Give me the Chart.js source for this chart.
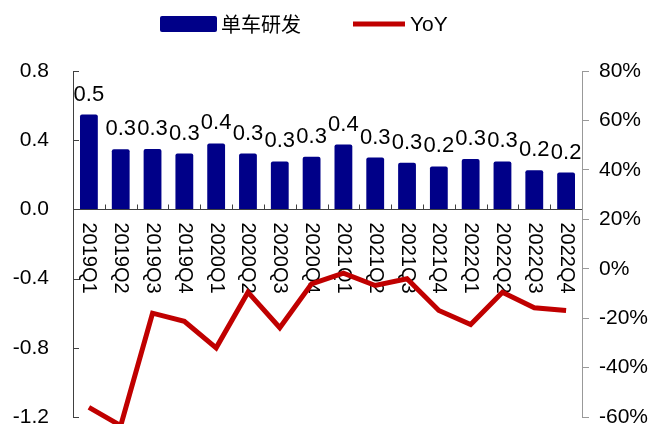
<!DOCTYPE html>
<html>
<head>
<meta charset="utf-8">
<script src="https://cdn.jsdelivr.net/npm/chart.js@4.4.0/dist/chart.umd.min.js"></script>
<style>
  html, body { margin: 0; padding: 0; background: #fff; }
</style>
</head>
<body>
<canvas id="myChart" width="651" height="424"></canvas>
<script>
// quarters on the x axis
const quarters = ['2019Q1', '2019Q2', '2019Q3', '2019Q4', '2020Q1', '2020Q2', '2020Q3', '2020Q4',
  '2021Q1', '2021Q2', '2021Q3', '2021Q4', '2022Q1', '2022Q2', '2022Q3', '2022Q4'];
// 单车研发 (left axis)
const rdValues = [0.548, 0.348, 0.349, 0.323, 0.381, 0.323, 0.277, 0.304,
  0.375, 0.300, 0.269, 0.248, 0.292, 0.277, 0.227, 0.213];
// YoY in % (right axis)
const yoyValues = [-56.1, -63.5, -18.0, -21.3, -32.0, -9.5, -23.9, -6.1,
  -1.8, -6.8, -4.1, -16.9, -22.6, -9.5, -15.8, -16.9];
const leftRange = [-1.2, 0.8];
const rightRange = [-60, 80];

const barColor = '#000088';
const lineColor = '#C00000';
const fontFamily = '"Liberation Sans", Arial, sans-serif';

// fixed axis widths, and no extra room for the end labels
function fixAxis(width) {
  return s => {
    s.width = width;
    s.paddingTop = 0;
    s.paddingBottom = 0;
  };
}

// x axis at zero, inward ticks, rotated labels, bar values and legend
const painter = {
  id: 'painter',
  beforeDatasetsDraw(chart) {
    const ctx = chart.ctx;
    const area = chart.chartArea;
    const x = chart.scales.x;
    const yl = chart.scales.y;
    const y0 = Math.round(yl.getPixelForValue(0)) + 0.5;
    ctx.save();
    ctx.strokeStyle = '#404040';
    ctx.lineWidth = 1;
    ctx.beginPath();
    ctx.moveTo(area.left, y0);
    ctx.lineTo(area.right, y0);
    for (let i = 1; i < quarters.length; i++) {
      const xb = Math.round((x.getPixelForValue(i - 1) + x.getPixelForValue(i)) / 2) + 0.5;
      ctx.moveTo(xb, y0 - 5);
      ctx.lineTo(xb, y0);
    }
    // left axis ticks pointing inward
    yl.ticks.forEach(t => {
      const yy = Math.round(yl.getPixelForValue(t.value)) + 0.5;
      ctx.moveTo(area.left, yy);
      ctx.lineTo(area.left + 6, yy);
    });
    ctx.stroke();

    ctx.fillStyle = '#000';
    ctx.font = '20px ' + fontFamily;
    ctx.textAlign = 'left';
    ctx.textBaseline = 'middle';
    quarters.forEach((q, i) => {
      ctx.save();
      ctx.translate(x.getPixelForValue(i), y0 + 13);
      ctx.rotate(Math.PI / 2);
      ctx.fillText(q, 0, 0);
      ctx.restore();
    });
    ctx.restore();
  },
  afterDatasetsDraw(chart) {
    const ctx = chart.ctx;
    const meta = chart.getDatasetMeta(0);
    ctx.save();
    ctx.fillStyle = '#000';
    ctx.font = '22px ' + fontFamily;
    ctx.textAlign = 'center';
    ctx.textBaseline = 'alphabetic';
    meta.data.forEach((bar, i) => {
      ctx.fillText(rdValues[i].toFixed(1), bar.x, bar.y - 14);
    });

    // legend
    const ly = 24;
    let lx = 160;
    ctx.fillStyle = barColor;
    ctx.beginPath();
    ctx.roundRect(lx, ly - 8, 57, 16, 2);
    ctx.fill();
    lx += 61;
    ctx.fillStyle = '#000';
    ctx.textAlign = 'left';
    ctx.textBaseline = 'middle';
    ctx.font = '20px "Noto Sans CJK SC", sans-serif';
    ctx.fillText(chart.data.datasets[0].label, lx, ly);
    lx += ctx.measureText(chart.data.datasets[0].label).width + 52;
    ctx.strokeStyle = lineColor;
    ctx.lineWidth = 5;
    ctx.beginPath();
    ctx.moveTo(lx, ly);
    ctx.lineTo(lx + 52, ly);
    ctx.stroke();
    lx += 57;
    ctx.font = '21px ' + fontFamily;
    ctx.fillText(chart.data.datasets[1].label, lx, ly + 1);
    ctx.restore();
  }
};

new Chart(document.getElementById('myChart'), {
  type: 'bar',
  data: {
    labels: quarters,
    datasets: [
      {
        label: '单车研发',
        data: rdValues,
        backgroundColor: barColor,
        borderRadius: 2,
        barPercentage: 0.56,
        categoryPercentage: 1,
        yAxisID: 'y',
        order: 1
      },
      {
        type: 'line',
        label: 'YoY',
        data: yoyValues,
        borderColor: lineColor,
        borderWidth: 5,
        pointRadius: 0,
        tension: 0,
        clip: false,
        yAxisID: 'y1',
        order: 0
      }
    ]
  },
  options: {
    responsive: false,
    animation: false,
    devicePixelRatio: 1,
    layout: {
      autoPadding: false,
      padding: { top: 71, bottom: 7, left: 0, right: 0 }
    },
    plugins: {
      legend: { display: false },
      tooltip: { enabled: false }
    },
    scales: {
      x: { display: false },
      y: {
        position: 'left',
        min: leftRange[0],
        max: leftRange[1],
        afterFit: fixAxis(73),
        ticks: {
          stepSize: 0.4,
          padding: 24,
          color: '#000',
          font: { family: fontFamily, size: 21 },
          callback: v => v.toFixed(1)
        },
        grid: { drawOnChartArea: false, drawTicks: false },
        border: { color: '#404040' }
      },
      y1: {
        position: 'right',
        min: rightRange[0],
        max: rightRange[1],
        afterFit: fixAxis(69),
        ticks: {
          stepSize: 20,
          padding: 10,
          color: '#000',
          font: { family: fontFamily, size: 21 },
          callback: v => v + '%'
        },
        grid: { drawOnChartArea: false, tickLength: 7, color: '#999' },
        border: { color: '#999' }
      }
    }
  },
  plugins: [painter]
});
</script>
</body>
</html>
